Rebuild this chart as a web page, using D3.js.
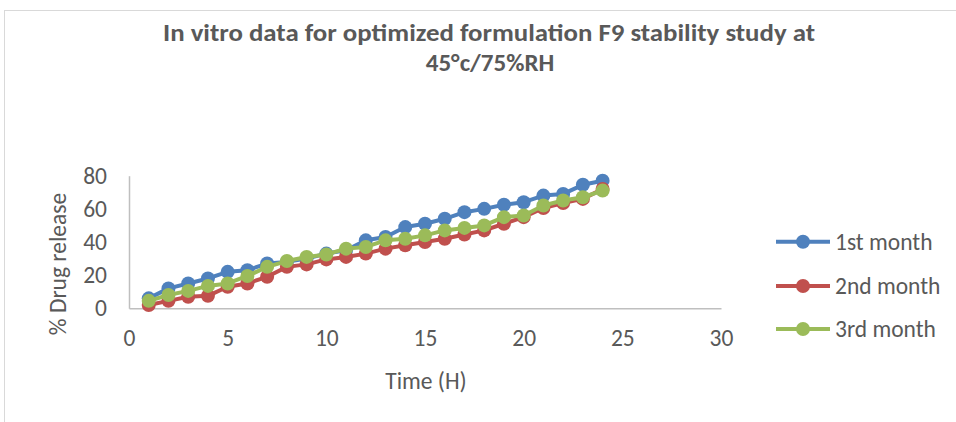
<!DOCTYPE html>
<html>
<head>
<meta charset="utf-8">
<script src="https://cdn.jsdelivr.net/npm/d3@7"></script>
<style>
  html, body { margin: 0; padding: 0; background: #fff; }
  svg { display: block; }
  text { font-family: Carlito, Lato, "Noto Sans", sans-serif; fill: #595959; }
</style>
</head>
<body>
<svg id="chart" width="956" height="422"></svg>
<script>
// Release profile (% drug release) sampled hourly over 24 h
const hours = d3.range(1, 25);
const month1 = [6, 12, 15, 18, 22, 23, 27, 28, 30, 33, 35, 41, 43, 49, 51, 54, 58, 60, 62.5, 64, 68, 69, 74.5, 77];
const month2 = [2, 4.5, 7, 7.5, 13, 15, 19, 25, 26.5, 29.5, 31, 33, 36, 38, 40, 42, 44.5, 47, 51, 55, 60.5, 63.5, 66, 72];
const month3 = [4.5, 8, 10.5, 13.5, 15, 19.5, 25, 28.5, 31, 32.5, 36, 37, 41, 42, 44, 47, 48.5, 50, 55, 56, 62, 65, 67, 71];
const seriesNames = ["1st month", "2nd month", "3rd month"];
const seriesColors = ["#4F81BD", "#C0504D", "#9BBB59"];
const xTicks = [0, 5, 10, 15, 20, 25, 30];
const yTicks = [0, 20, 40, 60, 80];
const titleLines = ["In vitro data for optimized formulation F9 stability study at", "45°c/75%RH"];

const FONT = "23.5px";
const TITLE_FONT = "25px";
const svg = d3.select("#chart");

// chart frame
svg.append("rect")
  .attr("x", 4.5).attr("y", 10.5)
  .attr("width", 1000).attr("height", 1000)
  .attr("fill", "#fff").attr("stroke", "#D9D9D9").attr("stroke-width", 1);

const x = d3.scaleLinear().domain([0, 30]).range([129, 721]);
const y = d3.scaleLinear().domain([0, 80]).range([308.3, 175.7]);

// title
svg.append("text")
  .attr("x", 489).attr("y", 41)
  .attr("text-anchor", "middle")
  .style("font-weight", "bold").style("font-size", TITLE_FONT)
  .attr("textLength", 652).attr("lengthAdjust", "spacingAndGlyphs")
  .text(titleLines[0]);
svg.append("text")
  .attr("x", 490).attr("y", 71)
  .attr("text-anchor", "middle")
  .style("font-weight", "bold").style("font-size", TITLE_FONT)
  .text(titleLines[1]);

// axes
const yAxis = d3.axisLeft(y).tickValues(yTicks).tickSize(0).tickPadding(22);
const gy = svg.append("g").attr("transform", `translate(${x(0)},0)`).call(yAxis);
gy.select(".domain").attr("stroke", "#BFBFBF").attr("stroke-width", 1.5);
gy.selectAll("text").style("font-size", FONT).attr("fill", "#595959").style("font-family", "Carlito, Lato, sans-serif");

const xAxis = d3.axisBottom(x).tickValues(xTicks).tickSize(0).tickPadding(21);
const gx = svg.append("g").attr("transform", `translate(0,${y(0)})`).call(xAxis);
gx.select(".domain").attr("stroke", "#BFBFBF").attr("stroke-width", 1.5);
gx.selectAll("text").style("font-size", FONT).attr("fill", "#595959").style("font-family", "Carlito, Lato, sans-serif");

// axis titles
svg.append("text")
  .attr("transform", `translate(66,264) rotate(-90)`)
  .attr("text-anchor", "middle")
  .style("font-size", FONT)
  .text("% Drug release");
svg.append("text")
  .attr("x", 426).attr("y", 389)
  .attr("text-anchor", "middle")
  .style("font-size", FONT)
  .text("Time (H)");

// series
const allSeries = [month1, month2, month3];
const line = d3.line().x((d, i) => x(hours[i])).y(d => y(d));
allSeries.forEach((vals, s) => {
  const g = svg.append("g");
  g.append("path")
    .datum(vals)
    .attr("d", line)
    .attr("fill", "none")
    .attr("stroke", seriesColors[s])
    .attr("stroke-width", 4)
    .attr("stroke-linejoin", "round");
  g.selectAll("circle")
    .data(vals)
    .join("circle")
    .attr("cx", (d, i) => x(hours[i]))
    .attr("cy", d => y(d))
    .attr("r", 7)
    .attr("fill", seriesColors[s]);
});

// legend
const legendRows = [241.7, 286, 329];
seriesNames.forEach((name, s) => {
  const g = svg.append("g").attr("transform", `translate(0,${legendRows[s]})`);
  g.append("line").attr("x1", 776).attr("x2", 830).attr("y1", 0).attr("y2", 0)
    .attr("stroke", seriesColors[s]).attr("stroke-width", 4);
  g.append("circle").attr("cx", 803).attr("cy", 0).attr("r", 7).attr("fill", seriesColors[s]);
  g.append("text").attr("x", 835).attr("y", 8)
    .style("font-size", FONT)
    .text(name);
});
</script>
</body>
</html>
